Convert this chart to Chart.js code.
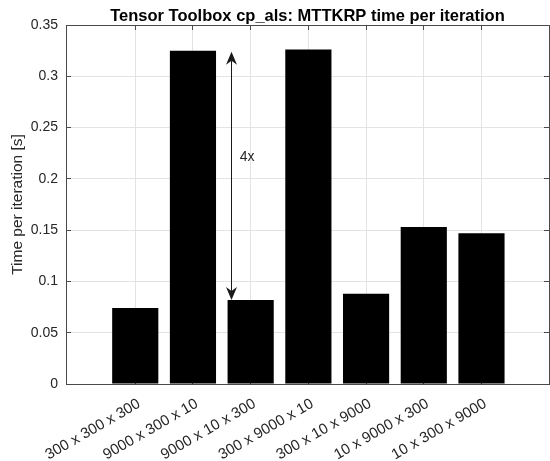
<!DOCTYPE html>
<html>
<head>
<meta charset="utf-8">
<script src="https://cdn.jsdelivr.net/npm/chart.js@4/dist/chart.umd.min.js"></script>
<style>
  html, body { margin: 0; padding: 0; background: #ffffff; }
  #wrap { width: 550px; height: 461px; }
</style>
</head>
<body>
<div id="wrap"><canvas id="chart" width="550" height="461"></canvas></div>
<script>
// Tensor sizes benchmarked (one bar each)
const categories = [
  '300 x 300 x 300',
  '9000 x 300 x 10',
  '9000 x 10 x 300',
  '300 x 9000 x 10',
  '300 x 10 x 9000',
  '10 x 9000 x 300',
  '10 x 300 x 9000'
];
// MTTKRP time per iteration, seconds
const timePerIteration = [0.074, 0.325, 0.082, 0.326, 0.088, 0.153, 0.147];

// Y axis ticks
const yTickValues = [0, 0.05, 0.1, 0.15, 0.2, 0.25, 0.3, 0.35];
const yTickLabels = ['0', '0.05', '0.1', '0.15', '0.2', '0.25', '0.3', '0.35'];

// Speed-up annotation between the slow and the fast ordering
const speedupText = '4x';
const speedupArrowX = 2.66;
const speedupFrom = 0.324;
const speedupTo = 0.082;
const speedupTextPos = [2.81, 0.221];

const titleText = 'Tensor Toolbox cp_als: MTTKRP time per iteration';
const yTitleText = 'Time per iteration [s]';

const FONT = '"Liberation Sans", Arial, Helvetica, sans-serif';
const TEXT_COLOR = '#262626';
const AXIS_COLOR = '#4a4a4a';
const GRID_COLOR = '#e3e3e3';

// Inward tick marks (drawn under the bars)
const innerTicks = {
  id: 'innerTicks',
  beforeDatasetsDraw(chart) {
    const { ctx, chartArea: a, scales: { x, y } } = chart;
    const L = 5;
    ctx.save();
    ctx.strokeStyle = AXIS_COLOR;
    ctx.lineWidth = 1;
    ctx.beginPath();
    x.ticks.forEach(t => {
      const px = Math.round(x.getPixelForValue(t.value) - 0.5) + 0.5;
      ctx.moveTo(px, a.bottom); ctx.lineTo(px, a.bottom - L);
      ctx.moveTo(px, a.top); ctx.lineTo(px, a.top + L);
    });
    y.ticks.forEach(t => {
      const py = Math.round(y.getPixelForValue(t.value) - 0.5) + 0.5;
      ctx.moveTo(a.left, py); ctx.lineTo(a.left + L, py);
      ctx.moveTo(a.right, py); ctx.lineTo(a.right - L, py);
    });
    ctx.stroke();
    ctx.restore();
  }
};

// Box, titles and the double-headed arrow
function arrowHead(ctx, x, tipY, dir) {
  // dir = +1 points down, -1 points up
  const len = 13, half = 5.5, notch = 9;
  ctx.beginPath();
  ctx.moveTo(x, tipY);
  ctx.lineTo(x - half, tipY - dir * len);
  ctx.lineTo(x, tipY - dir * notch);
  ctx.lineTo(x + half, tipY - dir * len);
  ctx.closePath();
  ctx.fill();
}

const decorations = {
  id: 'decorations',
  afterDatasetsDraw(chart) {
    const { ctx, chartArea: a, scales: { x, y } } = chart;
    ctx.save();

    // axes box
    ctx.strokeStyle = AXIS_COLOR;
    ctx.lineWidth = 1;
    const l = Math.round(a.left - 0.5) + 0.5;
    const r = Math.round(a.right - 0.5) + 0.5;
    const t = Math.round(a.top - 0.5) + 0.5;
    const b = Math.round(a.bottom - 0.5) + 0.5;
    ctx.strokeRect(l, t, r - l, b - t);

    // arrow
    const ax = Math.round(x.getPixelForValue(speedupArrowX)) + 0.5;
    const y1 = y.getPixelForValue(speedupFrom);
    const y2 = y.getPixelForValue(speedupTo);
    ctx.strokeStyle = '#1a1a1a';
    ctx.fillStyle = '#1a1a1a';
    ctx.lineWidth = 1;
    ctx.beginPath();
    ctx.moveTo(ax, y1 + 9);
    ctx.lineTo(ax, y2 - 9);
    ctx.stroke();
    arrowHead(ctx, ax, y1, -1);
    arrowHead(ctx, ax, y2, 1);

    // arrow label
    ctx.fillStyle = TEXT_COLOR;
    ctx.font = '14px ' + FONT;
    ctx.textAlign = 'left';
    ctx.textBaseline = 'middle';
    ctx.fillText(speedupText, x.getPixelForValue(speedupTextPos[0]), y.getPixelForValue(speedupTextPos[1]));

    // title
    ctx.fillStyle = '#000000';
    ctx.font = 'bold 16.5px ' + FONT;
    ctx.textAlign = 'center';
    ctx.textBaseline = 'alphabetic';
    ctx.fillText(titleText, (a.left + a.right) / 2, 20.5);

    // y axis title
    ctx.fillStyle = TEXT_COLOR;
    ctx.font = '15.5px ' + FONT;
    ctx.translate(21.5, (a.top + a.bottom) / 2);
    ctx.rotate(-Math.PI / 2);
    ctx.textAlign = 'center';
    ctx.textBaseline = 'alphabetic';
    ctx.fillText(yTitleText, 0, 0);

    ctx.restore();
  }
};

new Chart(document.getElementById('chart'), {
  type: 'bar',
  data: {
    datasets: [{
      data: categories.map((c, i) => ({ x: i + 1, y: timePerIteration[i] })),
      backgroundColor: '#000000',
      borderWidth: 0,
      barPercentage: 0.8,
      categoryPercentage: 1.0
    }]
  },
  options: {
    responsive: false,
    animation: false,
    devicePixelRatio: 1,
    layout: { padding: { top: 25, right: 1, left: 0, bottom: 0 } },
    plugins: {
      legend: { display: false },
      tooltip: { enabled: false },
      title: { display: false }
    },
    scales: {
      x: {
        type: 'linear',
        min: -0.2,
        max: 8.17,
        offset: false,
        afterBuildTicks(scale) {
          scale.ticks = categories.map((c, i) => ({ value: i + 1 }));
        },
        afterFit(scale) { scale.height = 77; },
        ticks: {
          autoSkip: false,
          minRotation: 30,
          maxRotation: 30,
          padding: 11,
          labelOffset: 4,
          color: TEXT_COLOR,
          font: { family: FONT, size: 15 },
          callback: (v, i) => categories[i]
        },
        grid: { color: GRID_COLOR, drawTicks: false, offset: false },
        border: { display: false }
      },
      y: {
        min: 0,
        max: 0.35,
        afterBuildTicks(scale) {
          scale.ticks = yTickValues.map(v => ({ value: v }));
        },
        afterFit(scale) { scale.width = 66; },
        ticks: {
          padding: 8,
          color: TEXT_COLOR,
          font: { family: FONT, size: 14 },
          callback: (v, i) => yTickLabels[i]
        },
        grid: { color: GRID_COLOR, drawTicks: false },
        border: { display: false }
      }
    }
  },
  plugins: [innerTicks, decorations]
});
</script>
</body>
</html>
